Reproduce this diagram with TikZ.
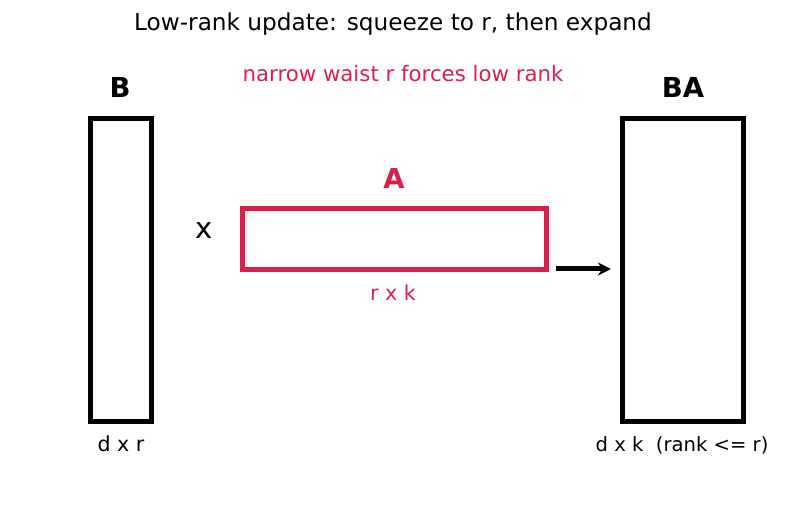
\documentclass[tikz,border=0pt]{standalone}
\usepackage{fontspec}
\setmainfont{DejaVu Sans}
\usetikzlibrary{arrows.meta}
\definecolor{waist}{RGB}{220,30,75}
\tikzset{
    mat/.style={draw, line width=5pt, inner sep=0pt},
    lbl/.style={font=\fontsize{20.6}{24}\selectfont},
    big/.style={font=\fontsize{27.5}{32}\selectfont\bfseries},
}

\begin{document}
\begin{tikzpicture}[x=1pt, y=-1pt, >={Stealth[length=13pt, width=13pt]}]
    \useasboundingbox (0, 0) rectangle (787, 510);
    \node[font=\fontsize{23.2}{28}\selectfont](title)at(393, 24){Low-rank update: squeeze to r, then expand};
    \node[font=\fontsize{21.3}{24}\selectfont, waist](note)at(403, 74){narrow waist r forces low rank};
    % the three matrices
    \node[mat, minimum width=61pt, minimum height=302pt](B)at(120.5, 270){};
    \node[mat, waist, minimum width=304pt, minimum height=61pt](A)at(394, 239.5){};
    \node[mat, minimum width=121pt, minimum height=302pt](BA)at(682.5, 270){};
    \node[big](Bname)at(120, 87){B};
    \node[big, waist](Aname)at(394, 178){A};
    \node[big](BAname)at(683, 87){BA};
    \node[font=\fontsize{29}{32}\selectfont](times)at(204, 231){x};
    \node[lbl](Bdim)at(121, 444){d x r};
    \node[lbl, waist](Adim)at(393, 293){r x k};
    \node[font=\fontsize{19.6}{24}\selectfont](BAdim)at(682, 445){d x k\ \ (rank <= r)};
    \coordinate(s)at(556, 269);
    \coordinate(e)at(611, 269);
    \draw[->, line width=5pt](s)--(e);
\end{tikzpicture}
\end{document}
